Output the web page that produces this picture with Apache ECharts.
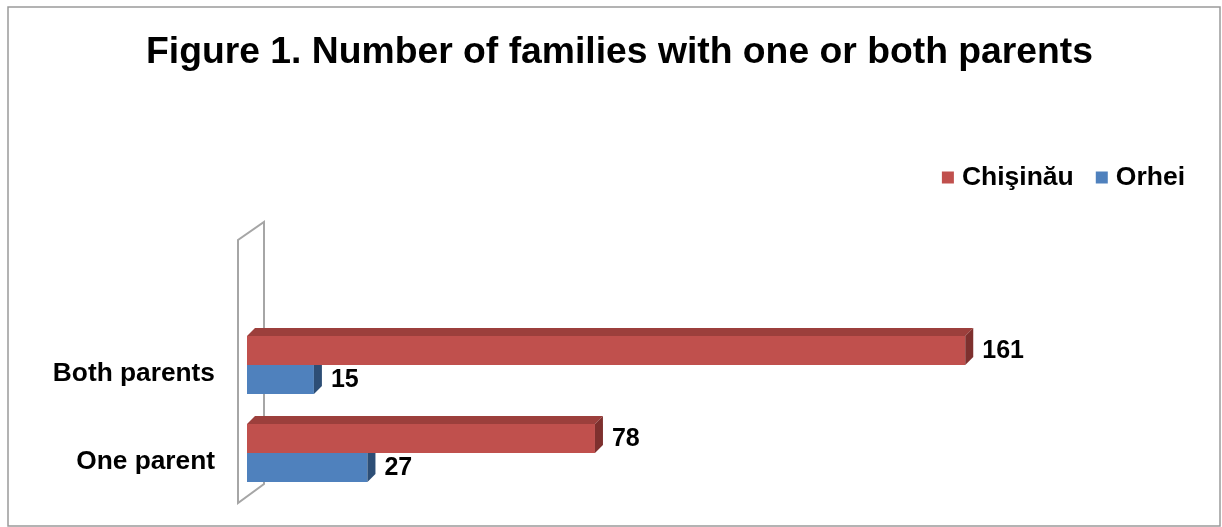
<!DOCTYPE html>
<html>
<head>
<meta charset="utf-8">
<script src="https://cdn.jsdelivr.net/npm/echarts@6/dist/echarts.min.js"></script>
<style>
  html, body { margin: 0; padding: 0; background: #fff; }
  #chart { width: 1222px; height: 527px; }
</style>
</head>
<body>
<div id="chart"></div>
<script>
// Categories (bottom to top on the vertical axis) and values per city
const categories = ['One parent', 'Both parents'];
const seriesNames = ['Chişinău', 'Orhei'];
const chisinauValues = [78, 161];
const orheiValues = [27, 15];

const FONT = '"Liberation Sans", Arial, sans-serif';
const DEPTH_X = 8, DEPTH_Y = -8;       // pseudo-3D extrusion of each bar
const BAR_SHARE = 29 / 88;             // bar thickness relative to category band

// Faces: front, top, side
const palette = {
  'Chişinău': { front: '#C0504D', top: '#9C3F3C', side: '#7E302E' },
  'Orhei':    { front: '#4F81BD', top: '#3D6797', side: '#2D4E76' }
};

function makeRenderer(name, slot) {
  const c = palette[name];
  return function (params, api) {
    const val = api.value(0);
    const cat = api.value(1);
    const base = api.coord([0, cat]);
    const tip = api.coord([val, cat]);
    const band = api.size([0, 1])[1];
    const t = band * BAR_SHARE;
    const y0 = slot === 0 ? base[1] - t : base[1];
    const y1 = y0 + t;
    const x0 = base[0], x1 = tip[0];
    return {
      type: 'group',
      children: [
        { type: 'rect', shape: { x: x0, y: y0, width: x1 - x0, height: t },
          style: { fill: c.front } },
        { type: 'polygon', shape: { points: [[x0, y0], [x0 + DEPTH_X, y0 + DEPTH_Y], [x1 + DEPTH_X, y0 + DEPTH_Y], [x1, y0]] },
          style: { fill: c.top } },
        { type: 'polygon', shape: { points: [[x1, y0], [x1 + DEPTH_X, y0 + DEPTH_Y], [x1 + DEPTH_X, y1 + DEPTH_Y], [x1, y1]] },
          style: { fill: c.side } },
        { type: 'text', x: x1 + DEPTH_X + 9, y: (y0 + y1) / 2 + 1,
          style: { text: String(val), fill: '#000', font: 'bold 25px ' + FONT,
                   align: 'left', verticalAlign: 'middle' } }
      ]
    };
  };
}

const chart = echarts.init(document.getElementById('chart'));

const option = {
  backgroundColor: '#fff',
  animation: false,
  title: {
    text: 'Figure 1. Number of families with one or both parents',
    left: 141, top: 29,
    textStyle: { fontFamily: FONT, fontSize: 37.3, fontWeight: 'bold', color: '#000' }
  },
  legend: {
    data: seriesNames,
    right: 32, top: 159,
    icon: 'rect', itemWidth: 12, itemHeight: 12, itemGap: 22,
    textStyle: { fontFamily: FONT, fontSize: 26.5, fontWeight: 'bold', color: '#000', padding: [0, 0, 0, 3] }
  },
  grid: { left: 247, top: 321, width: 803, height: 176 },
  xAxis: {
    type: 'value', min: 0, max: 180,
    show: false
  },
  yAxis: {
    type: 'category', data: categories,
    axisLine: { show: false }, axisTick: { show: false }, splitLine: { show: false },
    axisLabel: {
      margin: 32, color: '#000', fontFamily: FONT, fontSize: 26.3, fontWeight: 'bold',
      verticalAlign: 'top', lineHeight: 30, padding: [-6, 0, 0, 0]
    }
  },
  graphic: [
    // outer frame
    { type: 'rect', shape: { x: 8, y: 7, width: 1212, height: 519 },
      style: { fill: 'none', stroke: '#9A9A9A', lineWidth: 1.5 }, z: -10 },
    // back wall of the category axis
    { type: 'polygon', shape: { points: [[238, 503], [238, 240], [264, 222], [264, 484]] },
      style: { fill: '#fff', stroke: '#A6A6A6', lineWidth: 2 }, z: -5 }
  ],
  series: [
    { name: 'Chişinău', type: 'custom', z: 3, itemStyle: { color: palette['Chişinău'].front },
      encode: { x: 0, y: 1 }, renderItem: makeRenderer('Chişinău', 0),
      data: chisinauValues.map((v, i) => [v, i]) },
    { name: 'Orhei', type: 'custom', z: 2, itemStyle: { color: palette['Orhei'].front },
      encode: { x: 0, y: 1 }, renderItem: makeRenderer('Orhei', 1),
      data: orheiValues.map((v, i) => [v, i]) }
  ]
};

chart.setOption(option);
</script>
</body>
</html>
